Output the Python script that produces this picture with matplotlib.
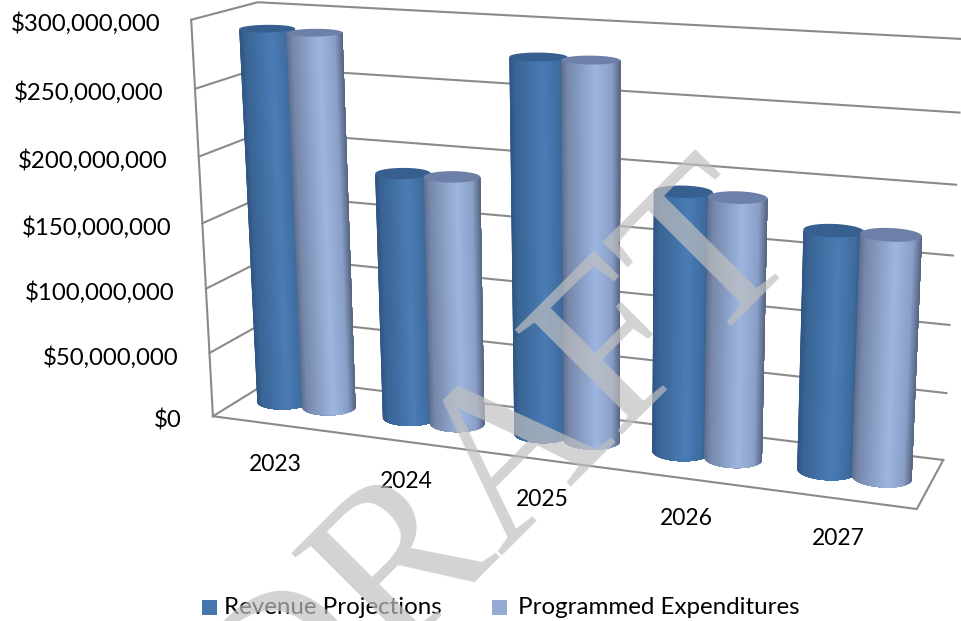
import numpy as np
import matplotlib
matplotlib.use('Agg')
import matplotlib.pyplot as plt
from matplotlib.collections import PolyCollection
from matplotlib.colors import to_rgb
from matplotlib.patches import Polygon, Rectangle

years = ['2023', '2024', '2025', '2026', '2027']
revenue = [288.5e6, 188e6, 279.5e6, 191.5e6, 173e6]
expenditures = [287.5e6, 188.5e6, 279.5e6, 190.5e6, 173.5e6]
yticks = [0, 50e6, 100e6, 150e6, 200e6, 250e6, 300e6]
ymax = 300e6

plt.rcParams['font.family'] = ['Lato', 'DejaVu Sans']

# corners of the 3d box in the picture: (category, depth, value) -> pixels
world = np.array([[0, 0, 0], [0, 0, 1], [0, 1, 0], [0, 1, 1],
                  [1, 1, 0], [1, 1, 1], [1, 0, 0]], float)
pix = np.array([[212, 416], [192, 20], [276, 378], [257, 2],
                [943, 460], [963, 39], [917, 509]], float)

rows = []
for (u, v, w), (x, y) in zip(world, pix):
    rows.append([u, v, w, 1, 0, 0, 0, 0, -x*u, -x*v, -x*w, -x])
    rows.append([0, 0, 0, 0, u, v, w, 1, -y*u, -y*v, -y*w, -y])
P = np.linalg.svd(np.array(rows))[2][-1].reshape(3, 4)


def proj(u, v, w):
    u, v, w = np.broadcast_arrays(u, v, w)
    p = np.stack([u, v, w, np.ones_like(u, dtype=float)])
    q = P @ p.reshape(4, -1)
    return (q[0]/q[2]).reshape(u.shape), (q[1]/q[2]).reshape(u.shape)


fig = plt.figure(figsize=(9.62, 6.21), dpi=100)
ax = fig.add_axes([0, 0, 1, 1])
ax.set_xlim(0, 962)
ax.set_ylim(621, 0)
ax.axis('off')

grid = '#8a8a8a'
for val in yticks:
    w = val/ymax
    xs, ys = proj([0, 0, 1], [0, 1, 1], [w, w, w])
    ax.plot(xs, ys, color=grid, lw=1.5, solid_joinstyle='miter', zorder=0)
    lx, ly = proj(0, 0, w)
    ax.text(lx-31, ly+4, '${:,.0f}'.format(val), ha='right', va='center', fontsize=17.3, color='black')

xs, ys = proj([0, 0], [0, 0], [0, 1])
ax.plot(xs, ys, color=grid, lw=1.5, zorder=0)
xs, ys = proj([0, 1, 1], [0, 0, 1], [0, 0, 0])
ax.plot(xs, ys, color=grid, lw=1.5, solid_joinstyle='miter', zorder=0)


def front_arc(xs):
    # indices of the near side of an ellipse, left extreme to right extreme
    return np.linspace(np.argmin(xs), np.argmax(xs), 61).round().astype(int)


def cylinder(uc, vc, value, stops, top):
    ru, rv = 0.0385, 0.19
    # starts at the back so both extremes are inside the array
    t = np.linspace(np.pi/2, 5*np.pi/2, 721)
    w = value/ymax
    x0, y0 = proj(uc + ru*np.cos(t), vc + rv*np.sin(t), 0)
    x1, y1 = proj(uc + ru*np.cos(t), vc + rv*np.sin(t), w)
    a0, a1 = front_arc(x0), front_arc(x1)
    f = (x0[a0] - x0.min())/(x0.max() - x0.min())
    pos = [0, 0.1, 0.58, 0.86, 1]
    polys, cols = [], []
    # each strip runs on to the right edge and the next one paints over it,
    # that way no white seams show between the strips
    for k in range(60):
        base = np.c_[x0[a0[k:]], y0[a0[k:]]]
        rim = np.c_[x1[a1[k:]], y1[a1[k:]]][::-1]
        polys.append(np.vstack([base, rim]))
        fk = (f[k] + f[k+1])/2
        cols.append([np.interp(fk, pos, [to_rgb(c)[i] for c in stops]) for i in range(3)])
    ax.add_collection(PolyCollection(polys, facecolors=cols, edgecolors='none'))
    ax.add_patch(Polygon(np.c_[x1, y1], closed=True, fc=top, ec='none'))


rev_stops = ['#2f5583', '#396494', '#4a7cb6', '#3f6c9f', '#2e5480']
exp_stops = ['#5f6f8f', '#7688ab', '#9db6e0', '#8a9fc7', '#566583']
du = 0.0365
for i, yr in enumerate(years):
    uc = (i + 0.5)/5
    cylinder(uc - du, 0.5, revenue[i], rev_stops, '#375f8f')
    cylinder(uc + du, 0.5, expenditures[i], exp_stops, '#6d80a8')
    lx, ly = proj(uc, 0, 0)
    ax.text(lx, ly+40, yr, ha='center', va='center', fontsize=16.5, color='black')

ax.add_patch(Rectangle((202, 600), 15, 15, fc='#4575ad', ec='none'))
ax.text(224, 607, 'Revenue Projections', ha='left', va='center', fontsize=17.4, color='black')
ax.add_patch(Rectangle((492, 600), 15, 15, fc='#95abd3', ec='none'))
ax.text(518, 607, 'Programmed Expenditures', ha='left', va='center', fontsize=17.4, color='black')

# watermark sits on top of everything
ax.text(539, 511, 'DRAFT', family='Liberation Serif', fontsize=164, rotation=45, rotation_mode='anchor',
        ha='center', va='baseline', color='#c0c0c0', alpha=0.7, zorder=20)

fig.savefig('out.png', dpi=100)
